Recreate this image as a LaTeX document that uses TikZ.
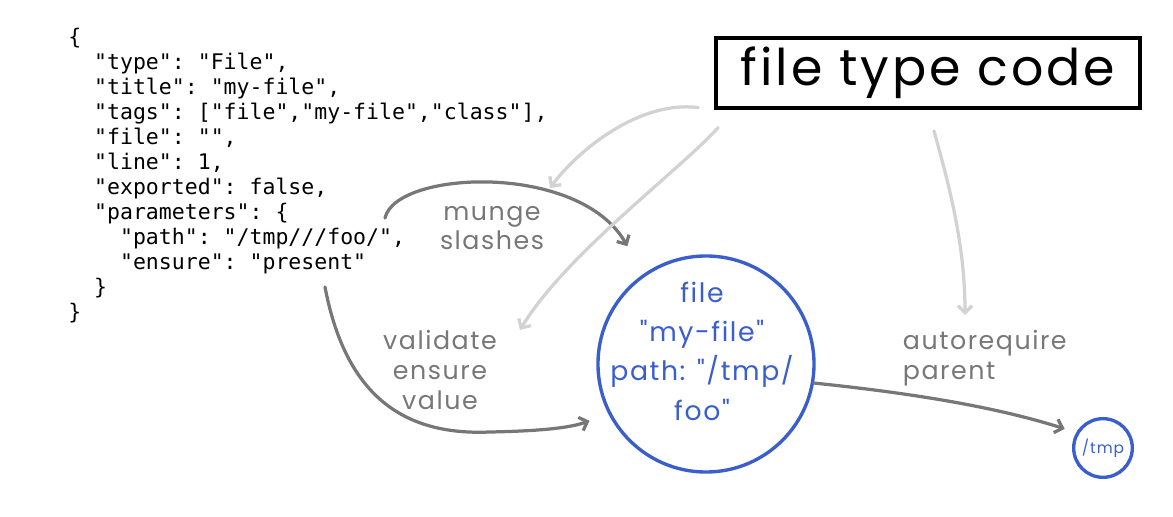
\documentclass[tikz,border=0pt]{standalone}
\usepackage{fontspec}
\setmonofont{DejaVu Sans Mono}
\newfontfamily\handfont[LetterSpace=6]{Poppins}
\usetikzlibrary{arrows.meta}
\definecolor{sketchgray}{HTML}{777777}
\definecolor{palegray}{HTML}{D2D2D2}
\definecolor{inkblue}{HTML}{3A5FCD}
\newcommand{\ind}{\hphantom{00}}

\begin{document}
\begin{tikzpicture}[x=0.025cm,y=-0.025cm,>={Straight Barb[length=5pt,width=10pt]},
	code/.style={anchor=north west,inner sep=0pt,align=left,font=\fontsize{15.3}{17.8}\selectfont\ttfamily},
	note/.style={text=sketchgray,font=\handfont\fontsize{18}{21}\selectfont},
	step arrow/.style={->,draw=sketchgray,line width=2.3pt,line cap=round},
	hint arrow/.style={->,draw=palegray,line width=2.3pt,line cap=round}]
	\useasboundingbox (0,0) rectangle (1173,517);
	%JSON catalog entry
	\node[code] (json) at (68,28) {\{\\
		\ind"type": "File",\\
		\ind"title": "my-file",\\
		\ind"tags": ["file","my-file","class"],\\
		\ind"file": "",\\
		\ind"line": 1,\\
		\ind"exported": false,\\
		\ind"parameters": \{\\
		\ind\ind"path": "/tmp///foo/",\\
		\ind\ind"ensure": "present"\\
		\ind\}\\
		\}};
	%file type code
	\node[draw,line width=2.4pt,minimum width=10.6cm,minimum height=1.75cm,
		font=\handfont\fontsize{36}{40}\selectfont] (ftc) at (928,73) {file type code};
	%the resource
	\node[draw=inkblue,circle,line width=2.4pt,minimum size=5.4cm] (res) at (706,364) {};
	\node[text=inkblue,align=center,font=\handfont\fontsize{19}{28}\selectfont] (restext) at (702,351)
		{file\\ "my-file"\\ path: "/tmp/\\ foo"};
	\node[draw=inkblue,circle,line width=2.4pt,minimum size=1.4cm,text=inkblue,
		font=\handfont\fontsize{11}{12}\selectfont] (tmp) at (1103,448) {/tmp};
	%labels
	\node[note,align=center] (munge) at (492,228) {munge\\ slashes};
	\node[note,align=center] (validate) at (440,370) {validate\\ ensure\\ value};
	\node[note,align=left,anchor=west] (autoreq) at (898,358) {autorequire\\ parent};
	%free ends
	\coordinate (mungestart) at (385,218);
	\coordinate (valstart) at (325,287);
	\coordinate (hinta) at (550,188);
	\coordinate (hintb) at (520,330);
	\coordinate (hintc) at (965,315);
	%steps
	\draw[step arrow,shorten >=0.8cm] (mungestart) .. controls (396,170) and (580,162) .. (res.125);
	\draw[step arrow,shorten >=0.5cm] (valstart) .. controls (345,392) and (400,436) .. (490,432)
		.. controls (540,431) and (570,428) .. (res.207);
	\draw[step arrow,shorten >=0.3cm] (res.350) .. controls (900,392) and (990,405) .. (tmp.150);
	%hints
	\draw[hint arrow,shorten <=0.4cm] (ftc.south west) .. controls (640,100) and (578,150) .. (hinta);
	\draw[hint arrow,shorten <=0.6cm] ([xshift=0.5cm]ftc.south west) .. controls (680,170) and (565,255) .. (hintb);
	\draw[hint arrow,shorten <=0.55cm] (ftc.south) .. controls (952,195) and (965,250) .. (hintc);
\end{tikzpicture}
\end{document}
